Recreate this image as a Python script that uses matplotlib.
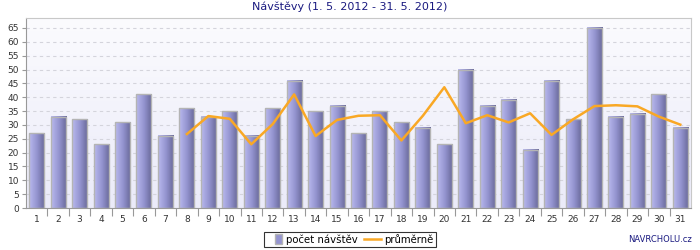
import matplotlib
matplotlib.use("Agg")
import matplotlib.pyplot as plt
import numpy as np
from matplotlib.colors import LinearSegmentedColormap
from matplotlib.legend_handler import HandlerPatch
from matplotlib.lines import Line2D
from matplotlib.patches import Patch, Rectangle

# data
days = list(range(1, 32))
visits = [27, 33, 32, 23, 31, 41, 26, 36, 33, 35, 26, 36, 46, 35, 37, 27,
          35, 31, 29, 23, 50, 37, 39, 21, 46, 32, 65, 33, 34, 41, 29]
avg_days = list(range(8, 32))
avg_vals = [26.7, 33.2, 32.2, 23.0, 30.3, 41.0, 26.0, 31.8, 33.3, 33.5, 24.4,
            33.3, 43.6, 30.6, 33.5, 30.9, 34.2, 26.4, 32.0, 36.8, 37.1, 36.7,
            33.0, 30.1]

title = "Návštěvy (1. 5. 2012 - 31. 5. 2012)"
navy = "#1a1a80"

fig = plt.figure(figsize=(7, 2.5), dpi=100)
ax = fig.add_axes([26 / 700, 42 / 250, 665 / 700, 190 / 250])

ymax = 68.6
ax.set_xlim(0.5, 31.5)
ax.set_ylim(0, ymax)

# background gradient white -> lavender
bg = LinearSegmentedColormap.from_list("bg", ["#ebebf9", "#fbfbfe"])
ax.imshow(np.linspace(0, 1, 100).reshape(-1, 1), cmap=bg, origin="lower",
          extent=[0.5, 31.5, 0, ymax], aspect="auto", zorder=0)

for yv in range(5, 70, 5):
    ax.axhline(yv, color="#d4d4dc", lw=0.8, ls=(0, (3, 3)), zorder=1)

# bars with horizontal gradient
bar_cmap = LinearSegmentedColormap.from_list("bar", ["#babaee", "#9494d0", "#686898"])
grad = np.linspace(0, 1, 64).reshape(1, -1)
bars = ax.bar(days, visits, width=0.7, facecolor="none",
              edgecolor="#b4b4b4", linewidth=1.0, zorder=3)
for p in bars:
    x0, w, h = p.get_x(), p.get_width(), p.get_height()
    ax.imshow(grad, cmap=bar_cmap, extent=[x0, x0 + w, 0, h],
              aspect="auto", zorder=2)

ax.plot(avg_days, avg_vals, color="#f9a825", lw=1.8, zorder=4)

ax.set_xlim(0.5, 31.5)
ax.set_ylim(0, ymax)

ax.set_yticks(range(0, 70, 5))
ax.set_xticks(days)
ax.set_xticks(np.arange(1.5, 31, 1), minor=True)
ax.tick_params(axis="x", which="major", length=0, pad=5, labelsize=6.5,
               labelcolor="#333333")
ax.tick_params(axis="x", which="minor", length=6, color="#999999", width=0.8)
ax.tick_params(axis="y", length=3, color="#999999", labelsize=6.5,
               labelcolor="#333333", pad=2)
for s in ["top", "right"]:
    ax.spines[s].set_color("#c8c8c8")
for s in ["left", "bottom"]:
    ax.spines[s].set_color("#999999")

fig.text(0.5, 0.972, title, ha="center", va="center", fontsize=8,
         color=navy)


def narrow_bar(legend, orig_handle, xdescent, ydescent, width, height, fontsize):
    # small upright bar like the original legend key
    return Rectangle((width - 5 - xdescent, -ydescent - 1), 5, height + 2)


handles = [Patch(facecolor="#9494d0", edgecolor="#b4b4b4"),
           Line2D([], [], color="#f9a825", lw=1.8)]
leg = fig.legend(handles, ["počet návštěv", "průměrně"], loc="center",
                 bbox_to_anchor=(0.5, 0.042), ncol=2, fontsize=7.3,
                 frameon=True, fancybox=False, edgecolor="black",
                 handlelength=1.6, handletextpad=0.4, columnspacing=0.6,
                 borderpad=0.25, borderaxespad=0,
                 handler_map={Patch: HandlerPatch(patch_func=narrow_bar)})
leg.get_frame().set_linewidth(0.8)

fig.text(0.988, 0.04, "NAVRCHOLU.cz", ha="right", va="center",
         fontsize=6, color=navy)

fig.savefig("out.png", dpi=100)
